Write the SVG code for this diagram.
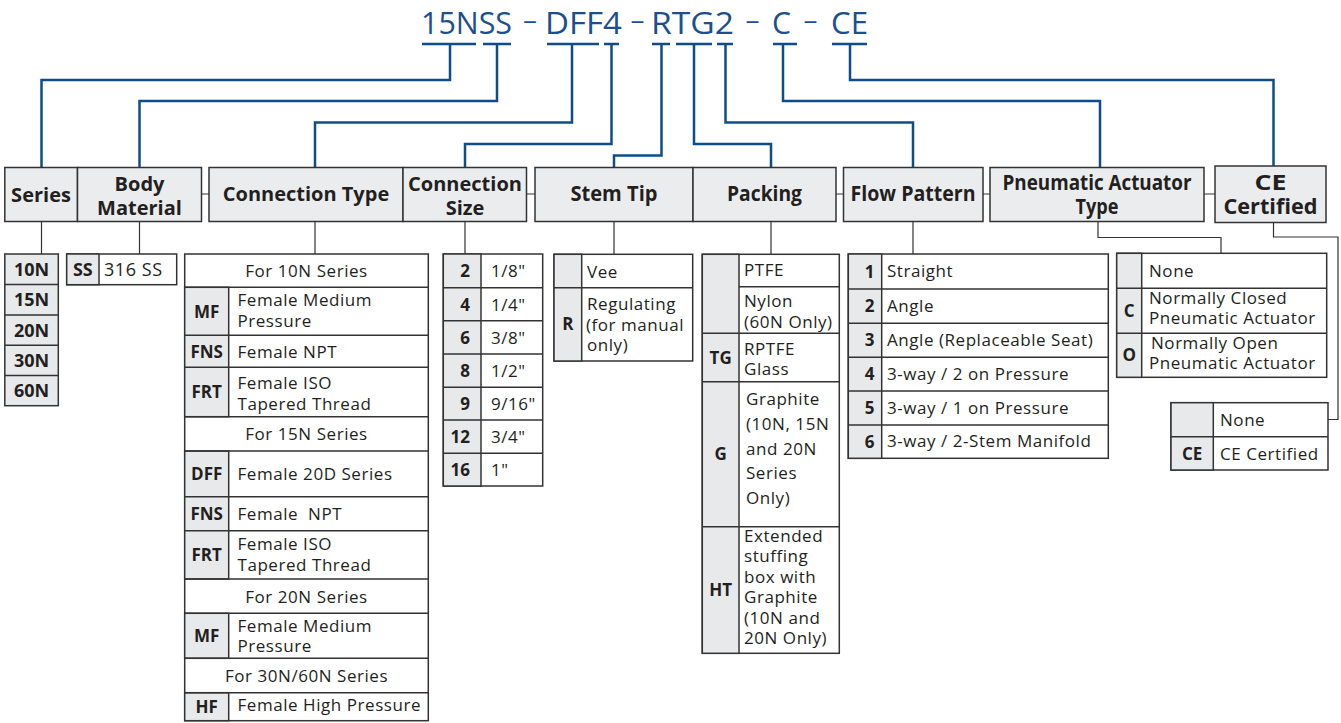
<svg xmlns="http://www.w3.org/2000/svg" width="1341" height="723" viewBox="0 0 1341 723">
<style>
.bg{fill:#ffffff}
.hb{fill:#ebecee;stroke:#333;stroke-width:1.5}
.tb{fill:#ffffff;stroke:#333;stroke-width:1.5}
.cd{fill:#e8e9eb;stroke:#333;stroke-width:1.5}
.ln{stroke:#333;stroke-width:1.5;fill:none}
.cn{stroke:#0f4c8c;stroke-width:2.5;fill:none}
.tk{stroke:#333;stroke-width:1.2;fill:none}
text{font-family:"Open Sans","Noto Sans",sans-serif;fill:#231f20}
.t{font-size:17px;letter-spacing:0.55px}
.b{font-size:17px;font-weight:700}
.h{font-size:20px;font-weight:700;text-anchor:middle}
.hc{font-size:21px;font-weight:700;text-anchor:middle}
.m{text-anchor:middle}
.e{text-anchor:end}
.ti{font-size:31px;fill:#1b4f8f}
.da{font-size:26px;fill:#1b4f8f;text-anchor:middle}
</style>
<rect class="bg" x="0" y="0" width="1341" height="723"/>

<g id="title">
<text class="ti" x="421" y="34" textLength="91" lengthAdjust="spacingAndGlyphs">15NSS</text>
<text class="da" x="530" y="28.5" textLength="14" lengthAdjust="spacingAndGlyphs">–</text>
<text class="ti" x="545" y="34" textLength="77" lengthAdjust="spacingAndGlyphs">DFF4</text>
<text class="da" x="637.5" y="28.5" textLength="14" lengthAdjust="spacingAndGlyphs">–</text>
<text class="ti" x="651" y="34" textLength="83" lengthAdjust="spacingAndGlyphs">RTG2</text>
<text class="da" x="752.5" y="28.5" textLength="14" lengthAdjust="spacingAndGlyphs">–</text>
<text class="ti" x="772" y="34" textLength="19" lengthAdjust="spacingAndGlyphs">C</text>
<text class="da" x="810.5" y="28.5" textLength="14" lengthAdjust="spacingAndGlyphs">–</text>
<text class="ti" x="831" y="34" textLength="37" lengthAdjust="spacingAndGlyphs">CE</text>
</g>

<g id="connectors">
<path class="cn" d="M422 44H476M483 44H511M547 44H599M604 44H619M652 44H670M676 44H712M717 44H733M773 44H797M832 44H867"/>
<path class="cn" d="M450 44V80H41.5V167.5"/>
<path class="cn" d="M497 44V101H139.5V167.5"/>
<path class="cn" d="M572 44V122.5H315V167.5"/>
<path class="cn" d="M611.5 44V144H465V167.5"/>
<path class="cn" d="M661.5 44V155.5H614V167.5"/>
<path class="cn" d="M694 44V144H771V167.5"/>
<path class="cn" d="M725.5 44V122.5H913V167.5"/>
<path class="cn" d="M783 44V101H1100V167.5"/>
<path class="cn" d="M850 44V80H1273.5V166"/>
<path class="tk" d="M201.5 194H209M526.5 194H535M836 194H843.5M983 194H990M1204 194H1215"/>
<path class="tk" d="M41.5 221.5V254M139.5 221.5V254M315 221.5V254M465 221.5V254M614 221.5V254.3M771 221.5V254.3M913 221.5V254"/>
<path class="tk" d="M1098 221.5V237.5H1221V253.3"/>
<path class="tk" d="M1273.5 222.5V237H1338V419.5H1328"/>
</g>

<g id="header-series">
<rect class="hb" x="4.8" y="167.5" width="72.7" height="54"/>
<text class="h" x="41" y="202">Series</text>
</g>
<g id="header-body">
<rect class="hb" x="77.5" y="167.5" width="124" height="54"/>
<text class="h" x="139.5" y="190.5">Body<tspan x="139.5" y="214.5">Material</tspan></text>
</g>
<g id="header-conntype">
<rect class="hb" x="209" y="167.5" width="194" height="54"/>
<text class="h" x="306" y="201">Connection Type</text>
</g>
<g id="header-connsize">
<rect class="hb" x="403" y="167.5" width="123.5" height="54"/>
<text class="h" x="465" y="190.5">Connection<tspan x="465" y="214.5">Size</tspan></text>
</g>
<g id="header-stemtip">
<rect class="hb" x="535" y="167.5" width="158" height="54"/>
<text class="hc" x="614" y="201" textLength="87" lengthAdjust="spacingAndGlyphs">Stem Tip</text>
</g>
<g id="header-packing">
<rect class="hb" x="693" y="167.5" width="143" height="54"/>
<text class="hc" x="764.5" y="201" textLength="75" lengthAdjust="spacingAndGlyphs">Packing</text>
</g>
<g id="header-flow">
<rect class="hb" x="843.5" y="167.5" width="139.5" height="54"/>
<text class="hc" x="913" y="201" textLength="125" lengthAdjust="spacingAndGlyphs">Flow Pattern</text>
</g>
<g id="header-pneumatic">
<rect class="hb" x="990" y="167.5" width="214" height="54"/>
<text class="hc" x="1097" y="189.5"><tspan x="1097" y="189.5" textLength="189" lengthAdjust="spacingAndGlyphs">Pneumatic Actuator</tspan><tspan x="1097" y="213.5" textLength="43" lengthAdjust="spacingAndGlyphs">Type</tspan></text>
</g>
<g id="header-ce">
<rect class="hb" x="1215" y="166" width="111" height="56.5"/>
<text class="hc" x="1270.5" y="189.5"><tspan x="1270.5" y="189.5" textLength="32" lengthAdjust="spacingAndGlyphs">CE</tspan><tspan x="1270.5" y="214" textLength="94" lengthAdjust="spacingAndGlyphs">Certified</tspan></text>
</g>

<g id="table-series">
<rect class="cd" x="4.8" y="254" width="53.5" height="151.7"/>
<path class="ln" d="M4.8 284.5H58.3M4.8 315H58.3M4.8 345.3H58.3M4.8 375.5H58.3"/>
<text class="b m" x="31.5" y="275.5" style="font-size:18px">10N</text>
<text class="b m" x="31.5" y="306" style="font-size:18px">15N</text>
<text class="b m" x="31.5" y="336.5" style="font-size:18px">20N</text>
<text class="b m" x="31.5" y="366.7" style="font-size:18px">30N</text>
<text class="b m" x="31.5" y="397" style="font-size:18px">60N</text>
</g>

<g id="table-body">
<rect class="tb" x="66.7" y="254" width="110" height="30.7"/>
<rect class="cd" x="66.7" y="254" width="32.3" height="30.7"/>
<text class="b m" x="82.8" y="275.5" style="font-size:18px">SS</text>
<text class="t" x="104" y="275.5" style="font-size:18px">316 SS</text>
</g>

<g id="table-conntype">
<rect class="tb" x="184.7" y="254" width="243.6" height="466.7"/>
<rect class="cd" x="184.7" y="287.3" width="44" height="129.4"/>
<rect class="cd" x="184.7" y="451" width="44" height="128"/>
<rect class="cd" x="184.7" y="613.3" width="44" height="45"/>
<rect class="cd" x="184.7" y="692.7" width="44" height="28"/>
<path class="ln" d="M184.7 287.3H428.3M184.7 335.3H428.3M184.7 367.3H428.3M184.7 416.7H428.3M184.7 451H428.3M184.7 496.7H428.3M184.7 530.7H428.3M184.7 579H428.3M184.7 613.3H428.3M184.7 658.3H428.3M184.7 692.7H428.3"/>
<text class="t m" x="306.5" y="276.5">For 10N Series</text>
<text class="b m" x="206.7" y="317.5">MF</text>
<text class="t" x="237.5" y="306">Female Medium<tspan x="237.5" y="326.5">Pressure</tspan></text>
<text class="b m" x="206.7" y="357.5">FNS</text>
<text class="t" x="237.5" y="357.5">Female NPT</text>
<text class="b m" x="206.7" y="398">FRT</text>
<text class="t" x="237.5" y="389">Female ISO<tspan x="237.5" y="409.5">Tapered Thread</tspan></text>
<text class="t m" x="306.5" y="440">For 15N Series</text>
<text class="b m" x="206.7" y="480">DFF</text>
<text class="t" x="237.5" y="480">Female 20D Series</text>
<text class="b m" x="206.7" y="519.5">FNS</text>
<text class="t" x="237.5" y="519.5" xml:space="preserve">Female  NPT</text>
<text class="b m" x="206.7" y="561">FRT</text>
<text class="t" x="237.5" y="550">Female ISO<tspan x="237.5" y="570.5">Tapered Thread</tspan></text>
<text class="t m" x="306.5" y="602.5">For 20N Series</text>
<text class="b m" x="206.7" y="642">MF</text>
<text class="t" x="237.5" y="631.5">Female Medium<tspan x="237.5" y="652">Pressure</tspan></text>
<text class="t m" x="306.5" y="682">For 30N/60N Series</text>
<text class="b m" x="206.7" y="712.5">HF</text>
<text class="t" x="237.5" y="711">Female High Pressure</text>
</g>

<g id="table-connsize">
<rect class="tb" x="443.3" y="254" width="99.4" height="232"/>
<rect class="cd" x="443.3" y="254" width="37.7" height="232"/>
<path class="ln" d="M443.3 287.7H542.7M443.3 320.7H542.7M443.3 354H542.7M443.3 387.3H542.7M443.3 420H542.7M443.3 453.3H542.7"/>
<text class="b e" x="470" y="277">2</text><text class="t" x="491" y="277">1/8"</text>
<text class="b e" x="470" y="310.5">4</text><text class="t" x="491" y="310.5">1/4"</text>
<text class="b e" x="470" y="343.5">6</text><text class="t" x="491" y="343.5">3/8"</text>
<text class="b e" x="470" y="376.5">8</text><text class="t" x="491" y="376.5">1/2"</text>
<text class="b e" x="470" y="409.5">9</text><text class="t" x="491" y="409.5">9/16"</text>
<text class="b e" x="470" y="442.5">12</text><text class="t" x="491" y="442.5">3/4"</text>
<text class="b e" x="470" y="475.5">16</text><text class="t" x="491" y="475.5">1"</text>
</g>

<g id="table-stemtip">
<rect class="tb" x="554" y="254.3" width="138.7" height="106.7"/>
<rect class="cd" x="554" y="254.3" width="27.7" height="106.7"/>
<path class="ln" d="M554 287.7H692.7"/>
<text class="t" x="587" y="277.5">Vee</text>
<text class="b m" x="567.8" y="330">R</text>
<text class="t" x="587" y="310">Regulating<tspan x="586" y="330.5">(for manual</tspan><tspan x="587" y="351">only)</tspan></text>
</g>

<g id="table-packing">
<rect class="tb" x="702.3" y="254.3" width="137" height="399"/>
<rect class="cd" x="702.3" y="254.3" width="36.7" height="399"/>
<path class="ln" d="M739 286.7H839.3M702.3 333.3H839.3M702.3 381.7H839.3M702.3 526.7H839.3"/>
<text class="t" x="744" y="275.5">PTFE</text>
<text class="t" x="744" y="307">Nylon<tspan x="744" y="327.5">(60N Only)</tspan></text>
<text class="b m" x="720.7" y="363.5">TG</text>
<text class="t" x="744" y="354.5">RPTFE<tspan x="744" y="375">Glass</tspan></text>
<text class="b m" x="720.7" y="460">G</text>
<text class="t" x="746" y="405">Graphite<tspan x="746" y="430">(10N, 15N</tspan><tspan x="746" y="455">and 20N</tspan><tspan x="746" y="479">Series</tspan><tspan x="746" y="504">Only)</tspan></text>
<text class="b m" x="720.7" y="596">HT</text>
<text class="t" x="744" y="541.5">Extended<tspan x="744" y="562">stuffing</tspan><tspan x="744" y="582.5">box with</tspan><tspan x="744" y="603">Graphite</tspan><tspan x="744" y="623.5">(10N and</tspan><tspan x="744" y="644">20N Only)</tspan></text>
</g>

<g id="table-flow">
<rect class="tb" x="848.3" y="254" width="260" height="204.3"/>
<rect class="cd" x="848.3" y="254" width="33.4" height="204.3"/>
<path class="ln" d="M848.3 289H1108.3M848.3 323.3H1108.3M848.3 357.3H1108.3M848.3 391H1108.3M848.3 425H1108.3"/>
<text class="b e" x="874.5" y="277.5">1</text><text class="t" x="887" y="277">Straight</text>
<text class="b e" x="874.5" y="312">2</text><text class="t" x="887" y="311.5">Angle</text>
<text class="b e" x="874.5" y="346">3</text><text class="t" x="887" y="345.5">Angle (Replaceable Seat)</text>
<text class="b e" x="874.5" y="380">4</text><text class="t" x="887" y="379.5">3-way / 2 on Pressure</text>
<text class="b e" x="874.5" y="414">5</text><text class="t" x="887" y="413.5">3-way / 1 on Pressure</text>
<text class="b e" x="874.5" y="447.5">6</text><text class="t" x="887" y="447">3-way / 2-Stem Manifold</text>
</g>

<g id="table-pneumatic">
<rect class="tb" x="1116.7" y="253.3" width="210" height="124"/>
<rect class="cd" x="1116.7" y="253.3" width="25" height="124"/>
<path class="ln" d="M1116.7 288.3H1326.7M1116.7 333.3H1326.7"/>
<text class="t" x="1149" y="277">None</text>
<text class="b m" x="1129.2" y="317">C</text>
<text class="t" x="1149" y="303.5">Normally Closed<tspan x="1149" y="324">Pneumatic Actuator</tspan></text>
<text class="b m" x="1129.2" y="361">O</text>
<text class="t" x="1151" y="348.5">Normally Open<tspan x="1149" y="369">Pneumatic Actuator</tspan></text>
</g>

<g id="table-ce">
<rect class="tb" x="1171" y="402.7" width="157" height="67.3"/>
<rect class="cd" x="1171" y="402.7" width="42.3" height="67.3"/>
<path class="ln" d="M1171 436.7H1328"/>
<text class="t" x="1220" y="426">None</text>
<text class="b m" x="1192.2" y="460">CE</text>
<text class="t" x="1220" y="460">CE Certified</text>
</g>
</svg>
